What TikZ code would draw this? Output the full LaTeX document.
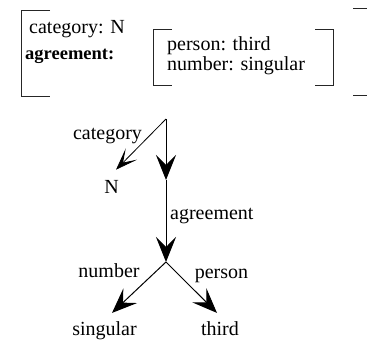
\documentclass[tikz,border=0pt]{standalone}
\usepackage{fontspec}
\setmainfont{Liberation Serif}
\newfontfamily\lserif{Liberation Serif}
\usetikzlibrary{arrows.meta}
\begin{document}
\begin{tikzpicture}[x=1pt,y=-1pt,
  txt/.style={inner sep=0pt,font=\lserif\fontsize{20}{24}\selectfont},
  lbl/.style={txt,anchor=base west},
  brk/.style={line width=0.9pt,black!85},
  edge/.style={line width=1pt,-{Stealth[length=25pt,width=20pt,inset=10pt]}},
  thinedge/.style={line width=0.8pt,-{Stealth[length=22pt,width=16pt,inset=12pt]}}]
\useasboundingbox (0,0) rectangle (367,340);
% feature structure
\node[lbl] (cat) at (29,33) {category: N};
\node[lbl,font=\lserif\bfseries\fontsize{18.5}{22}\selectfont] (agr) at (25,59) {agreement:};
\node[lbl] (per) at (167,50) {person: third};
\node[lbl] (num) at (167,70) {number: singular};
\draw[brk] (50,10) -- (21,10) -- (21,96) -- (50,96);
\draw[brk] (353,8.5) -- (367,8.5);
\draw[brk] (353,95) -- (367,95);
\draw[brk] (172,29.5) -- (153,29.5) -- (153,85) -- (172,85);
\draw[brk] (315,29.5) -- (333,29.5) -- (333,85) -- (315,85);
% graph
\coordinate (R) at (166,119);
\coordinate (A) at (166,180);
\coordinate (B) at (166,262);
\node[txt,anchor=base] (N) at (111.5,193) {N};
\node[txt,anchor=base] (sg) at (104.5,335) {singular};
\node[txt,anchor=base] (th) at (220,335) {third};
\node[txt,anchor=base] (lcat) at (107.5,139) {category};
\node[txt,anchor=base west] (lagr) at (170,219) {agreement};
\node[txt,anchor=base] (lnum) at (109,277) {number};
\node[txt,anchor=base] (lper) at (221.5,278) {person};
\draw[thinedge] (R) -- ([xshift=4.5pt,yshift=10pt]N.north);
\draw[edge] (R) -- (A);
\draw[edge] (A) -- (B);
\draw[edge] (B) -- ([xshift=7.5pt,yshift=8pt]sg.north);
\draw[edge] (B) -- ([xshift=-3pt,yshift=8pt]th.north);
\end{tikzpicture}
\end{document}
